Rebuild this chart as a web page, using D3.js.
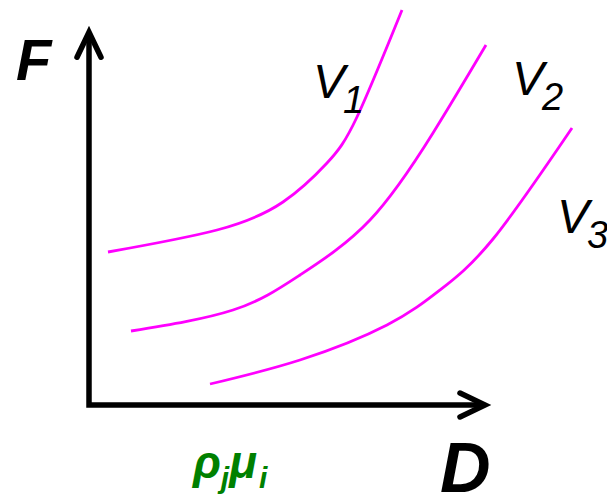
<!DOCTYPE html>
<html>
<head>
<meta charset="utf-8">
<script src="https://cdn.jsdelivr.net/npm/d3@7"></script>
<style>
  html, body { margin: 0; padding: 0; background: #fff; }
  svg { display: block; }
  text { font-family: Arial, "Liberation Sans", sans-serif; }
</style>
</head>
<body>
<div id="chart"></div>
<script>
// Curve data (abstract units: D along x, F along y)
const v1D = [0.475, 3.2, 4.85, 5.95, 6.7, 7.825];
const v1F = [3.825, 4.375, 5.075, 6.05, 7.2, 9.875];

const v2D = [1.05, 3.6, 5.275, 7.025, 8.6, 9.925];
const v2F = [1.85, 2.375, 3.25, 4.625, 6.8, 9.0];

const v3D = [3.025, 5.275, 7.45, 8.775, 10.1, 12.075];
const v3F = [0.525, 1.125, 2.0, 2.875, 4.15, 6.925];

const seriesNames = ["1", "2", "3"];

const width = 607, height = 500;
const origin = { x: 89, y: 405 };

// Scales: 40px per unit
const x = d3.scaleLinear().domain([0, 10]).range([origin.x, origin.x + 400]);
const y = d3.scaleLinear().domain([0, 10]).range([origin.y, origin.y - 400]);

const svg = d3.select("#chart").append("svg")
    .attr("width", width)
    .attr("height", height);

// Curves
const line = d3.line()
    .x(d => x(d[0]))
    .y(d => y(d[1]))
    .curve(d3.curveNatural);

const series = [
    d3.zip(v1D, v1F),
    d3.zip(v2D, v2F),
    d3.zip(v3D, v3F)
];

svg.selectAll(".curve")
    .data(series)
    .enter().append("path")
    .attr("class", "curve")
    .attr("d", line)
    .attr("fill", "none")
    .attr("stroke", "#ff00ff")
    .attr("stroke-width", 2.8);

// Axes
const axisTopF = 9.32, axisEndD = 9.9;
svg.append("path")
    .attr("d", "M" + x(0) + "," + y(axisTopF) + "V" + y(0) + "H" + x(axisEndD))
    .attr("fill", "none")
    .attr("stroke", "#000")
    .attr("stroke-width", 5.5)
    .attr("stroke-linejoin", "miter")
    .attr("stroke-linecap", "butt");

// Arrow heads (open chevrons)
svg.append("path")
    .attr("d", "M" + (x(0) - 12) + "," + (y(axisTopF) + 25) + "L" + x(0) + "," + y(axisTopF) + "L" + (x(0) + 12) + "," + (y(axisTopF) + 25))
    .attr("fill", "none")
    .attr("stroke", "#000")
    .attr("stroke-width", 5.5)
    .attr("stroke-linejoin", "miter")
    .attr("stroke-linecap", "round");

svg.append("path")
    .attr("d", "M" + (x(axisEndD) - 25) + "," + (y(0) - 12) + "L" + x(axisEndD) + "," + y(0) + "L" + (x(axisEndD) - 25) + "," + (y(0) + 12))
    .attr("fill", "none")
    .attr("stroke", "#000")
    .attr("stroke-width", 5.5)
    .attr("stroke-linejoin", "miter")
    .attr("stroke-linecap", "round");

// Axis titles
svg.append("text")
    .attr("x", 16).attr("y", 80)
    .style("font-size", "58px")
    .style("font-weight", "bold")
    .style("font-style", "italic")
    .text("F");

svg.append("text")
    .attr("x", 440).attr("y", 492)
    .style("font-size", "70px")
    .style("font-weight", "bold")
    .style("font-style", "italic")
    .text("D");

// Green label under x axis
const g = svg.append("text")
    .attr("x", 193).attr("y", 478)
    .attr("fill", "#008000")
    .style("font-weight", "bold")
    .style("font-style", "italic")
    .style("font-size", "46px");
g.append("tspan").text("ρ");
g.append("tspan").attr("dy", 10).style("font-size", "30px").text("j");
g.append("tspan").attr("dy", -10).text("μ");
g.append("tspan").attr("dx", 2).attr("dy", 10).style("font-size", "30px").text("i");

// Curve labels V1, V2, V3
const labelPos = [[313, 98], [512, 95], [557, 233]];
labelPos.forEach(function (p, i) {
    const t = svg.append("text")
        .attr("x", p[0]).attr("y", p[1])
        .style("font-style", "italic")
        .style("font-size", "48px");
    t.append("tspan").text("V");
    t.append("tspan").attr("dx", -2).attr("dy", 15).style("font-size", "38px").text(seriesNames[i]);
});
</script>
</body>
</html>
